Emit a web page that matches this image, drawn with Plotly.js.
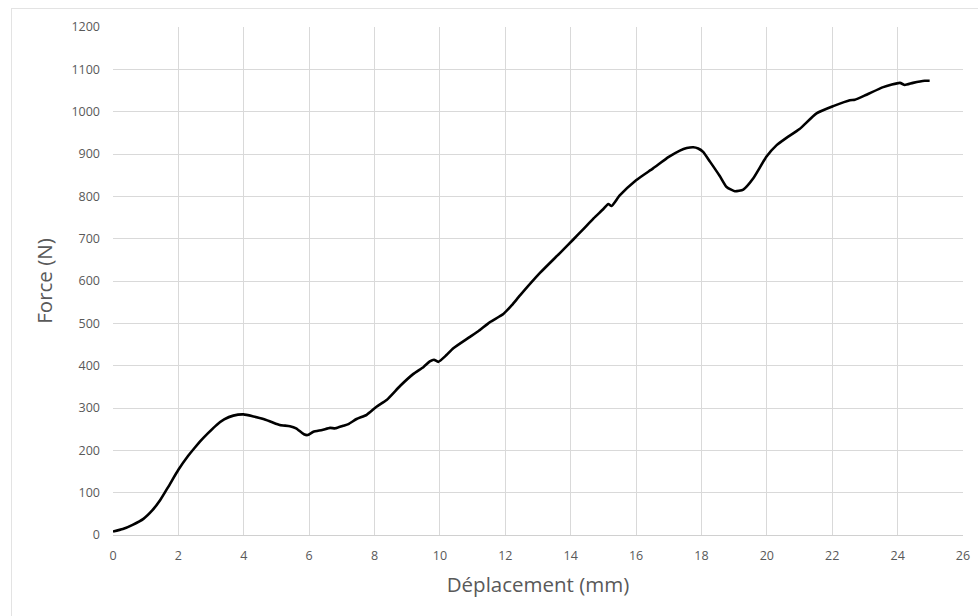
<!DOCTYPE html>
<html>
<head>
<meta charset="utf-8">
<script src="https://cdn.plot.ly/plotly-3.0.1.min.js"></script>
<style>
html,body{margin:0;padding:0;background:#fff;}
#frame{position:absolute;left:11px;top:8px;width:980px;height:620px;border-left:1px solid #e3e3e3;border-top:1px solid #e3e3e3;}
#chart{position:absolute;left:0;top:0;width:978px;height:616px;}
</style>
</head>
<body>
<div id="frame"></div>
<div id="chart"></div>
<script>
const displacement = [0, 0.3, 0.6, 0.93, 1.2, 1.44, 1.7, 2.0, 2.3, 2.5, 2.7, 2.9, 3.17, 3.4, 3.68, 3.99, 4.3, 4.6, 4.85, 5.1, 5.41, 5.6, 5.84, 5.95, 6.13, 6.4, 6.64, 6.8, 7.04, 7.2, 7.45, 7.76, 8.06, 8.37, 8.78, 9.18, 9.5, 9.69, 9.82, 9.95, 10.2, 10.41, 10.92, 11.2, 11.53, 11.94, 12.2, 12.45, 13.06, 13.67, 14.08, 14.38, 14.7, 15.0, 15.15, 15.25, 15.5, 16.0, 16.52, 17.0, 17.34, 17.55, 17.75, 17.9, 18.05, 18.26, 18.56, 18.77, 19.02, 19.28, 19.58, 19.99, 20.3, 20.6, 21.0, 21.52, 22.03, 22.54, 22.69, 23.05, 23.56, 24.07, 24.22, 24.47, 24.83, 24.98];
const force = [8, 14, 24, 38, 58, 82, 115, 154, 187, 206, 224, 240, 260, 273, 282, 285, 280, 274, 267, 260, 257, 252, 238, 236, 244, 248, 253, 252, 258, 262, 274, 284, 303, 319, 352, 380, 397, 410, 414, 409, 425, 441, 468, 483, 503, 522, 543, 566, 619, 666, 698, 722, 748, 770, 782, 777, 802, 838, 866, 893, 908, 914, 916, 913, 905, 882, 848, 822, 812, 816, 842, 894, 921, 938, 959, 996, 1013, 1027, 1028, 1040, 1058, 1068, 1063, 1068, 1073, 1073];

const xTicks = [0, 2, 4, 6, 8, 10, 12, 14, 16, 18, 20, 22, 24, 26];
const yTicks = [0, 100, 200, 300, 400, 500, 600, 700, 800, 900, 1000, 1100, 1200];

const trace = {
  x: displacement,
  y: force,
  type: 'scatter',
  mode: 'lines',
  line: {color: '#000000', width: 2.6, shape: 'spline', smoothing: 0.5},
  hoverinfo: 'skip'
};

const fontFam = '"Open Sans", "Liberation Sans", sans-serif';

const layout = {
  width: 978,
  height: 616,
  paper_bgcolor: 'rgba(0,0,0,0)',
  plot_bgcolor: '#ffffff',
  margin: {l: 113, r: 15, t: 27, b: 81},
  showlegend: false,
  font: {family: fontFam, color: '#595959', size: 12},
  xaxis: {
    range: [0, 26],
    tickvals: xTicks,
    ticktext: xTicks.map(String),
    showgrid: true,
    gridcolor: '#d9d9d9',
    gridwidth: 1,
    zeroline: false,
    showline: true,
    linecolor: '#d0d0d0',
    linewidth: 1,
    mirror: false,
    ticks: '',
    ticklen: 0,
    ticklabelstandoff: 9,
    tickfont: {size: 12.5, color: '#595959', family: fontFam},
    title: {text: 'Déplacement (mm)', font: {size: 20.5, color: '#595959', family: fontFam}, standoff: 14}
  },
  yaxis: {
    range: [0, 1200],
    tickvals: yTicks,
    ticktext: yTicks.map(String),
    showgrid: true,
    gridcolor: '#d9d9d9',
    gridwidth: 1,
    zeroline: false,
    showline: false,
    ticks: '',
    ticklabelstandoff: 12,
    tickfont: {size: 12.5, color: '#595959', family: fontFam},
    title: {text: 'Force (N)', font: {size: 20.5, color: '#595959', family: fontFam}, standoff: 13}
  }
};

Plotly.newPlot('chart', [trace], layout, {displayModeBar: false, staticPlot: true});
</script>
</body>
</html>
